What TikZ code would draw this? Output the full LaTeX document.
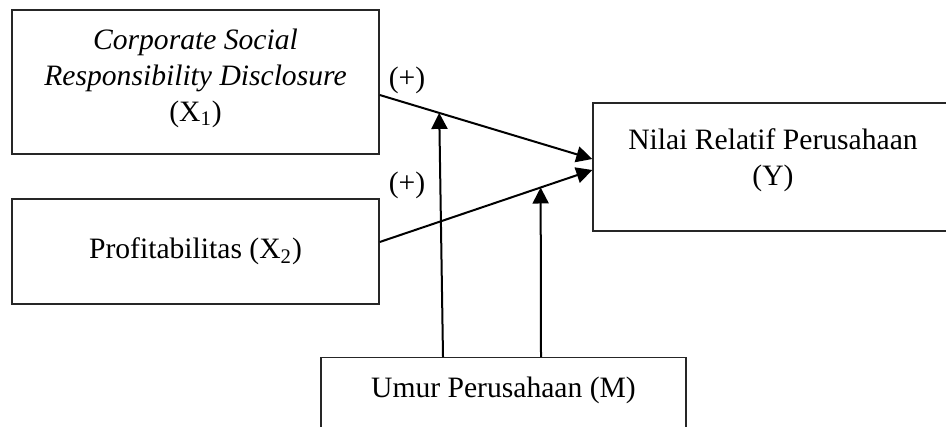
\documentclass[tikz,border=0pt]{standalone}
\usepackage{fontspec}
\setmainfont{Liberation Serif}
\usetikzlibrary{arrows.meta,calc}
\begin{document}
\begin{tikzpicture}[x=0.5pt,y=-0.5pt,
  box/.style={draw=black!85,line width=0.7pt,align=center,inner sep=0pt,
    font=\fontsize{14.8}{18}\selectfont},
  txt/.style={font=\fontsize{14.8}{18}\selectfont,align=center,inner sep=0pt},
  lbl/.style={font=\fontsize{14.8}{18}\selectfont,inner sep=0pt},
  arr/.style={line width=1pt,-{Triangle[length=8pt,width=8pt]}}]
\useasboundingbox (0,0) rectangle (946,427);
\clip (0,0) rectangle (946,427);
\node[box,minimum width=183.5pt,minimum height=72pt,
  label={[txt,yshift=2pt]center:\textit{Corporate Social}\\\textit{Responsibility Disclosure}\\(X\textsubscript{1})}] (X1) at (195.5,82) {};
\node[box,minimum width=183.5pt,minimum height=52.5pt] (X2) at (195.5,251.5)
  {Profitabilitas (X\textsubscript{2})};
\node[box,minimum width=180pt,minimum height=64pt,
  label={[txt,yshift=3.5pt]center:Nilai Relatif Perusahaan\\(Y)}] (Y) at (773,167) {};
\node[box,anchor=north,minimum width=182.5pt,text height=20pt,text depth=40pt] (M) at (503.5,357)
  {Umur Perusahaan (M)};
\draw[arr] ([yshift=-6.5pt]X1.east) -- coordinate[pos=0.28] (m1) ([yshift=4pt]Y.west);
\draw[arr] ([yshift=4.75pt]X2.east) -- coordinate[pos=0.757] (m2) ([yshift=-1.5pt]Y.west);
\draw[arr] ([xshift=-30.25pt]M.north) -- (m1);
\draw[arr] ([xshift=18.75pt]M.north) -- (m2);
\node[lbl] (p1) at (407,80) {(+)};
\node[lbl] (p2) at (407,185) {(+)};
\end{tikzpicture}
\end{document}
